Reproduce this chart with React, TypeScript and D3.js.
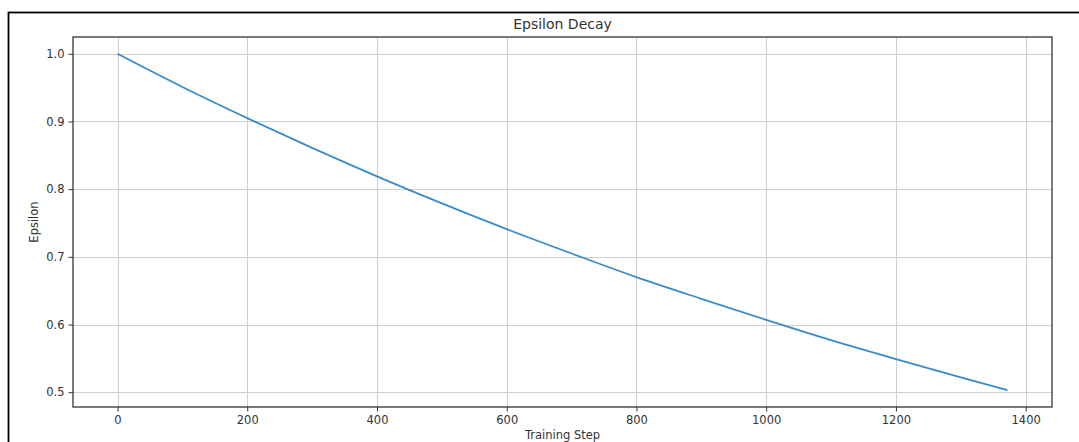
import React, { useRef, useEffect } from 'react';
import { select, scaleLinear, line, curveMonotoneX, axisBottom, axisLeft, format, extent } from 'd3';

// epsilon every 100 steps (last point at the final step)
const steps = [0, 100, 200, 300, 400, 500, 600, 700, 800, 900, 1000, 1100, 1200, 1300, 1372];
const epsilon = [1.0, 0.951, 0.905, 0.861, 0.819, 0.779, 0.741, 0.705, 0.670, 0.638, 0.607, 0.577, 0.549, 0.522, 0.503];
const xTicks = [0, 200, 400, 600, 800, 1000, 1200, 1400];
const yTicks = [0.5, 0.6, 0.7, 0.8, 0.9, 1.0];

const W = 1079;
const H = 442;
const plot = { left: 73, top: 37, right: 1052, bottom: 407 };

const padded = (lo: number, hi: number): [number, number] => {
  const m = (hi - lo) * 0.05;
  return [lo - m, hi + m];
};

const App: React.FC = () => {
  const svgRef = useRef<SVGSVGElement | null>(null);

  useEffect(() => {
    if (!svgRef.current) return;
    const svg = select(svgRef.current);
    svg.selectAll('*').remove();

    const [x0, x1] = extent(steps) as [number, number];
    const [y0, y1] = extent(epsilon) as [number, number];
    const x = scaleLinear().domain(padded(x0, x1)).range([plot.left, plot.right]);
    const y = scaleLinear().domain(padded(y0, y1)).range([plot.bottom, plot.top]);

    const font = 'DejaVu Sans, sans-serif';

    // outer frame of the screenshot
    svg.append('rect')
      .attr('x', 8.5).attr('y', 12.5)
      .attr('width', 1080).attr('height', 450)
      .attr('fill', 'white').attr('stroke', '#000').attr('stroke-width', 1.8);

    // grid
    const grid = svg.append('g');
    grid.selectAll('line.gx').data(xTicks).enter().append('line')
      .attr('x1', d => Math.round(x(d)) + 0.5).attr('x2', d => Math.round(x(d)) + 0.5)
      .attr('y1', plot.top).attr('y2', plot.bottom)
      .attr('stroke', '#cfcfcf').attr('stroke-width', 1);
    grid.selectAll('line.gy').data(yTicks).enter().append('line')
      .attr('y1', d => Math.round(y(d)) + 0.5).attr('y2', d => Math.round(y(d)) + 0.5)
      .attr('x1', plot.left).attr('x2', plot.right)
      .attr('stroke', '#cfcfcf').attr('stroke-width', 1);

    // the curve
    const path = line<number>().x((d, i) => x(steps[i])).y(d => y(d)).curve(curveMonotoneX);
    svg.append('path')
      .datum(epsilon)
      .attr('d', path)
      .attr('fill', 'none')
      .attr('stroke', '#3a8bc9')
      .attr('stroke-width', 1.8);

    // axes
    const xAxis = svg.append('g')
      .attr('transform', `translate(0,${plot.bottom})`)
      .call(axisBottom(x).tickValues(xTicks).tickFormat(format('d')).tickSize(4.5).tickPadding(4).tickSizeOuter(0));
    const yAxis = svg.append('g')
      .attr('transform', `translate(${plot.left},0)`)
      .call(axisLeft(y).tickValues(yTicks).tickFormat(format('.1f')).tickSize(4.5).tickPadding(4).tickSizeOuter(0));
    [xAxis, yAxis].forEach(a => {
      a.select('.domain').remove();
      a.selectAll('line').attr('stroke', '#333');
      a.selectAll('text').attr('font-family', font).attr('font-size', 11.5).attr('fill', '#333');
    });

    // spines
    svg.append('rect')
      .attr('x', plot.left).attr('y', plot.top)
      .attr('width', plot.right - plot.left).attr('height', plot.bottom - plot.top)
      .attr('fill', 'none').attr('stroke', '#333').attr('stroke-width', 1.3);

    svg.append('text')
      .attr('x', (plot.left + plot.right) / 2).attr('y', 29)
      .attr('text-anchor', 'middle')
      .attr('font-family', font).attr('font-size', 14).attr('fill', '#333')
      .text('Epsilon Decay');

    svg.append('text')
      .attr('x', (plot.left + plot.right) / 2).attr('y', 439)
      .attr('text-anchor', 'middle')
      .attr('font-family', font).attr('font-size', 11.5).attr('fill', '#333')
      .text('Training Step');

    svg.append('text')
      .attr('transform', `translate(38,${(plot.top + plot.bottom) / 2}) rotate(-90)`)
      .attr('text-anchor', 'middle')
      .attr('font-family', font).attr('font-size', 11.5).attr('fill', '#333')
      .text('Epsilon');
  }, []);

  return (
    <svg ref={svgRef} width={W} height={H}
      style={{ position: 'fixed', left: 0, top: 0, background: 'white', display: 'block' }} />
  );
};

export default App;
